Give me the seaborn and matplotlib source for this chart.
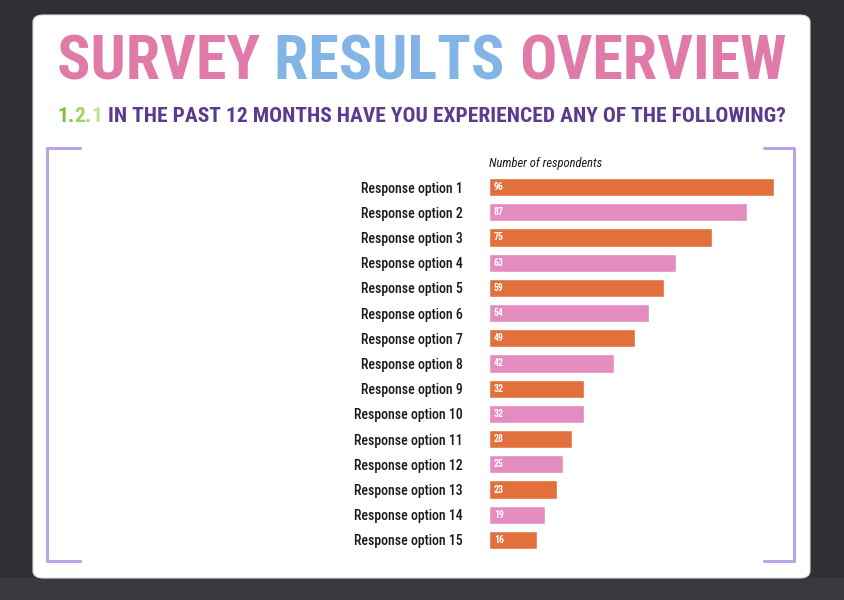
import numpy as np
import seaborn as sns
import matplotlib.pyplot as plt
from matplotlib.patches import FancyBboxPatch, Rectangle
from matplotlib.lines import Line2D

# Dados (rótulos neutros no lugar dos textos originais)
categorias = ['Response option %d' % i for i in range(1, 16)]
valores = [96, 87, 75, 63, 59, 54, 49, 42, 32, 32, 28, 25, 23, 19, 16]
cores_barras = ['#e2703c', '#e48cbf'] * 8
titulo_partes = [('SURVEY ', '#df7aa9'), ('RESULTS ', '#82b4e6'), ('OVERVIEW', '#df7aa9')]
subtitulo_partes = [('1.', '#7dc242'), ('2.', '#9fd36a'), ('1 ', '#bfe29a'),
                    ('IN THE PAST 12 MONTHS HAVE YOU EXPERIENCED ANY OF THE FOLLOWING?', '#5c3a8e')]

sns.set_theme(style='white')
plt.rcParams['font.family'] = ['Roboto Condensed', 'Liberation Sans Narrow', 'Roboto', 'DejaVu Sans']

W, H = 845, 600
fig = plt.figure(figsize=(W / 100, H / 100), dpi=100)
fig.patch.set_facecolor('#2e3034')

def fx(x):
    return x / W

def fy(y):
    return 1 - y / H

# Fundo e cartão branco
fig.patches.append(Rectangle((0, 0), 1, fy(578), transform=fig.transFigure,
                             facecolor='#37393d', edgecolor='none', zorder=-3))
fig.patches.append(FancyBboxPatch((fx(33), fy(578)), fx(810) - fx(33), fy(15) - fy(578),
                                  boxstyle='round,pad=0,rounding_size=0.012',
                                  transform=fig.transFigure, facecolor='white',
                                  edgecolor='#dddddd', lw=0.8, zorder=-2))

# Colchetes roxos
cor_colchete = '#b9a2e6'
for xs, ys in [([80, 47, 47, 80], [148, 148, 561, 561]),
               ([764, 794, 794, 764], [148, 148, 561, 561])]:
    fig.add_artist(Line2D([fx(v) for v in xs], [fy(v) for v in ys],
                          transform=fig.transFigure, color=cor_colchete, lw=2.2, zorder=2))

# Texto em partes coloridas, ajustado à largura desejada
fig.canvas.draw()
renderer = fig.canvas.get_renderer()

def linha_colorida(partes, x0, x1, y, tamanho):
    textos = [fig.text(0, fy(y), t, color=c, fontsize=tamanho, fontweight='bold',
                       va='center', ha='left', zorder=3) for t, c in partes]
    total = sum(t.get_window_extent(renderer=renderer).width for t in textos)
    fator = (x1 - x0) / total
    x = fx(x0)
    for t in textos:
        t.set_fontsize(tamanho * fator)
        t.set_x(x)
        x += t.get_window_extent(renderer=renderer).width / W

linha_colorida(titulo_partes, 57, 788, 62, 34)
linha_colorida(subtitulo_partes, 57, 785, 116, 15)

# Gráfico de barras
ax = fig.add_axes([fx(489), fy(552.6), fx(786) - fx(489), (552.6 - 174.4) / H])
ax.set_facecolor('none')
sns.barplot(x=valores, y=categorias, hue=categorias, palette=cores_barras[:15],
            width=0.72, saturation=1, legend=False, ax=ax)
ax.set_xlim(0, 100)
ax.set_ylim(14.5, -0.5)
for s in ax.spines.values():
    s.set_visible(False)
ax.set_xticks([])
ax.set_xlabel('')
ax.set_ylabel('')
ax.tick_params(axis='y', length=0, pad=19, labelsize=10, labelcolor='#1a1a1a')
for lb in ax.get_yticklabels():
    lb.set_fontweight('medium')

for i, v in enumerate(valores):
    ax.text(1.6, i, str(v), color='white', fontsize=7, fontweight='bold',
            va='center', ha='left')

ax.text(0, -0.95, 'Number of respondents', fontsize=9, style='italic',
        color='#1a1a1a', va='center', ha='left')

fig.savefig('out.png', dpi=100, facecolor=fig.get_facecolor())
